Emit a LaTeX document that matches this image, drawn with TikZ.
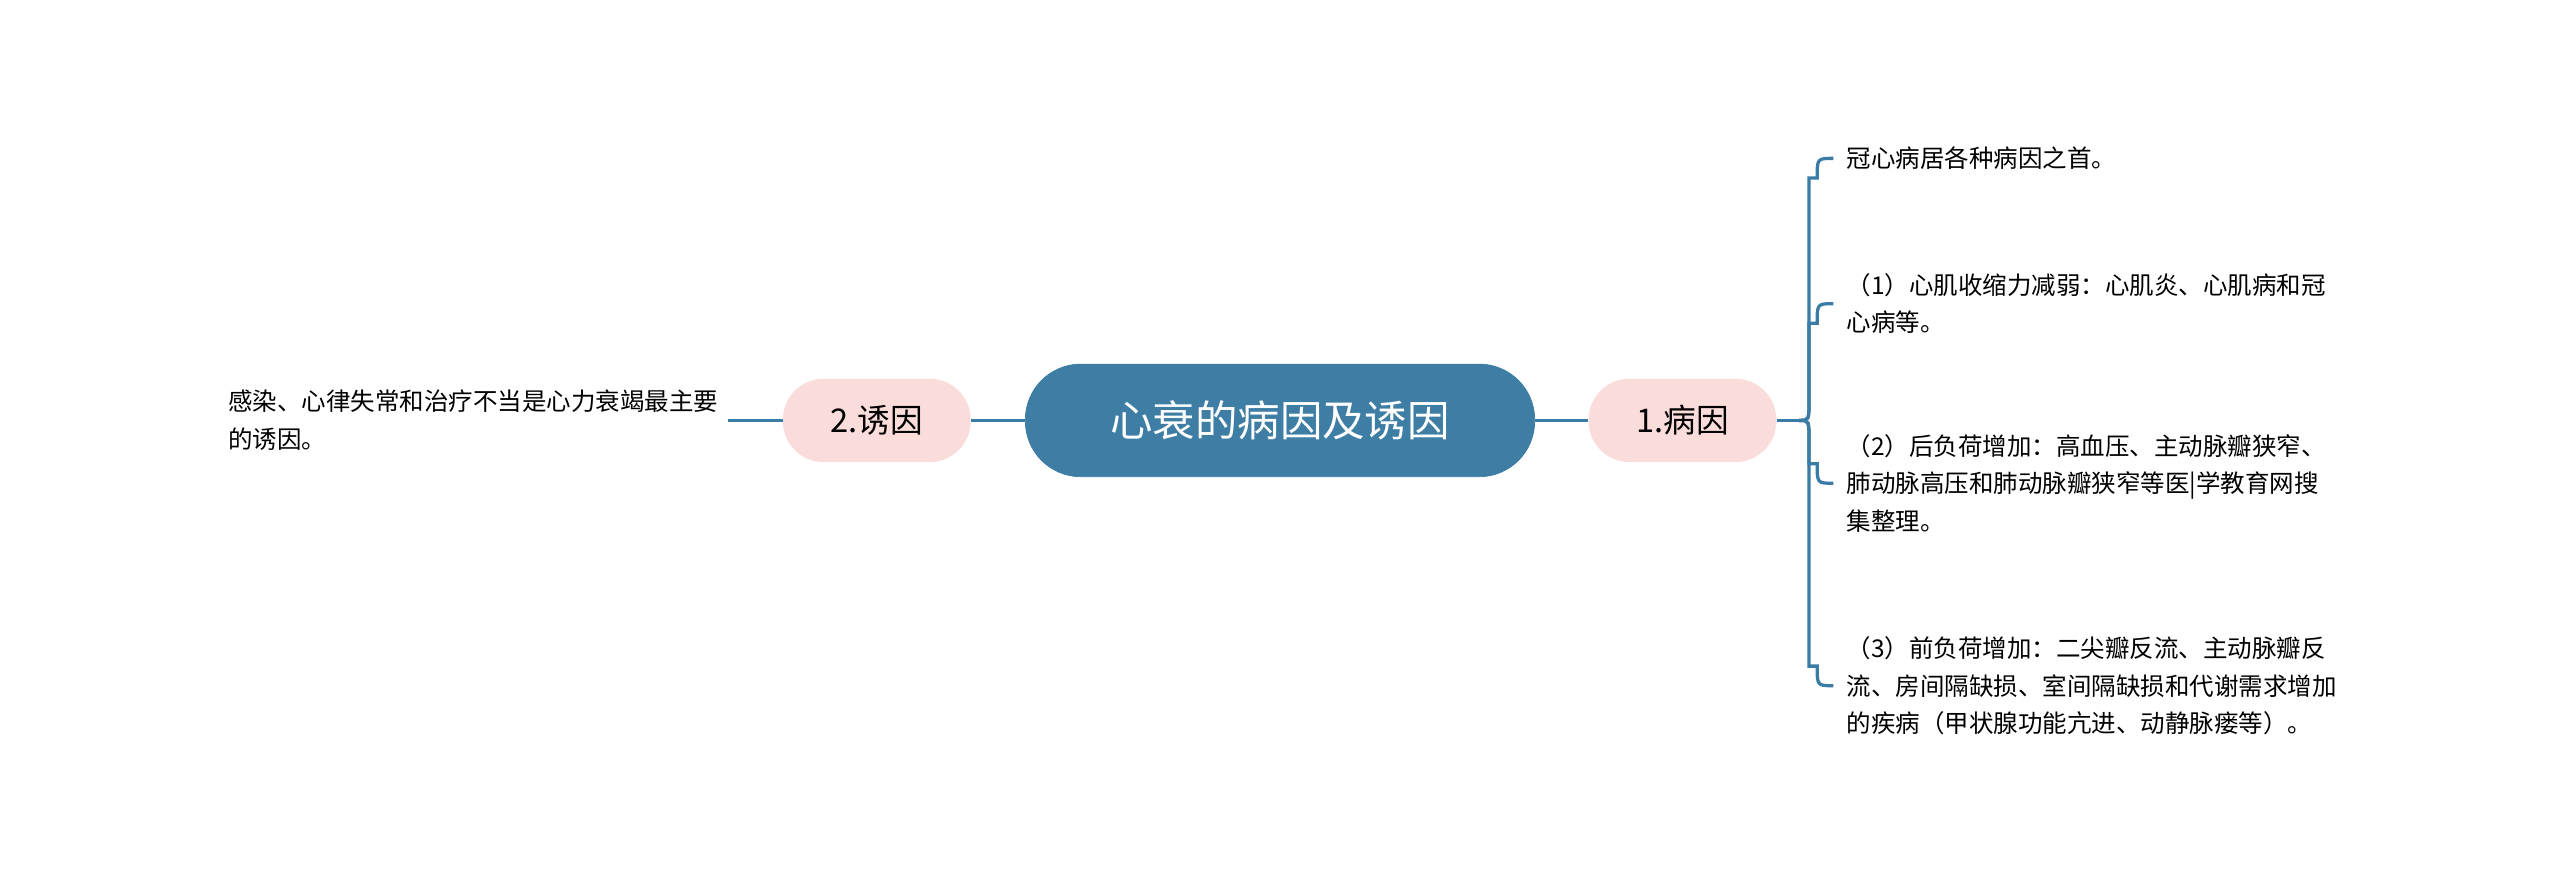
\documentclass[tikz,border=0pt]{standalone}
\usepackage{fontspec}
\setmainfont{Noto Sans CJK SC}
\usetikzlibrary{calc}
\begin{document}
\begin{tikzpicture}[x=1pt,y=-1pt,
  ln/.style={draw=lc,line width=2pt},
  leaf/.style={anchor=west,align=left,font=\fontsize{15}{23}\selectfont,text=black,inner sep=0pt}]
\definecolor{lc}{HTML}{3A7CA5}
\definecolor{cen}{HTML}{3E7EA5}
\definecolor{pk}{HTML}{FADCDA}
\useasboundingbox[fill=white] (0,0) rectangle (1568,538);
\node[fill=cen,draw=lc,rounded corners=34pt,minimum width=312pt,minimum height=69pt,text=white,font=\fontsize{26}{30}\selectfont] (c) at (784,257.5) {心衰的病因及诱因};
\node[fill=pk,rounded corners=25pt,minimum width=115pt,minimum height=51pt,font=\fontsize{20}{24}\selectfont] (a) at (1030.5,257.5) {1.病因};
\node[fill=pk,rounded corners=25pt,minimum width=115pt,minimum height=51pt,font=\fontsize{20}{24}\selectfont] (b) at (537,257.5) {2.诱因};
\draw[ln] (c.east) -- (a.west);
\draw[ln] (c.west) -- (b.east);
\coordinate (le) at (446,257.5);
\draw[ln] (b.west) -- (le);
\node[leaf,anchor=east] (lt) at (440,257.5) {感染、心律失常和治疗不当是心力衰竭最主要\\的诱因。};
\coordinate (j) at (1102,257.5);
\draw[ln] (a.east) -- (j);
\node[leaf] (r1) at (1131,97) {冠心病居各种病因之首。};
\node[leaf] (r2) at (1131,186) {（1）心肌收缩力减弱：心肌炎、心肌病和冠\\心病等。};
\node[leaf] (r3) at (1131,296) {（2）后负荷增加：高血压、主动脉瓣狭窄、\\肺动脉高压和肺动脉瓣狭窄等医|学教育网搜\\集整理。};
\node[leaf] (r4) at (1131,420) {（3）前负荷增加：二尖瓣反流、主动脉瓣反\\流、房间隔缺损、室间隔缺损和代谢需求增加\\的疾病（甲状腺功能亢进、动静脉瘘等）。};
\foreach \r/\s in {r1/1,r2/1,r3/-1,r4/-1}{
  \draw[ln] (j) .. controls (1108,257.5) .. (1108,{257.5-\s*12}) |- ($(\r.west)+(-18,\s*12)$) .. controls ($(\r.west)+(-18,0)$) .. ($(\r.west)+(-8,0)$);
}
\end{tikzpicture}
\end{document}
